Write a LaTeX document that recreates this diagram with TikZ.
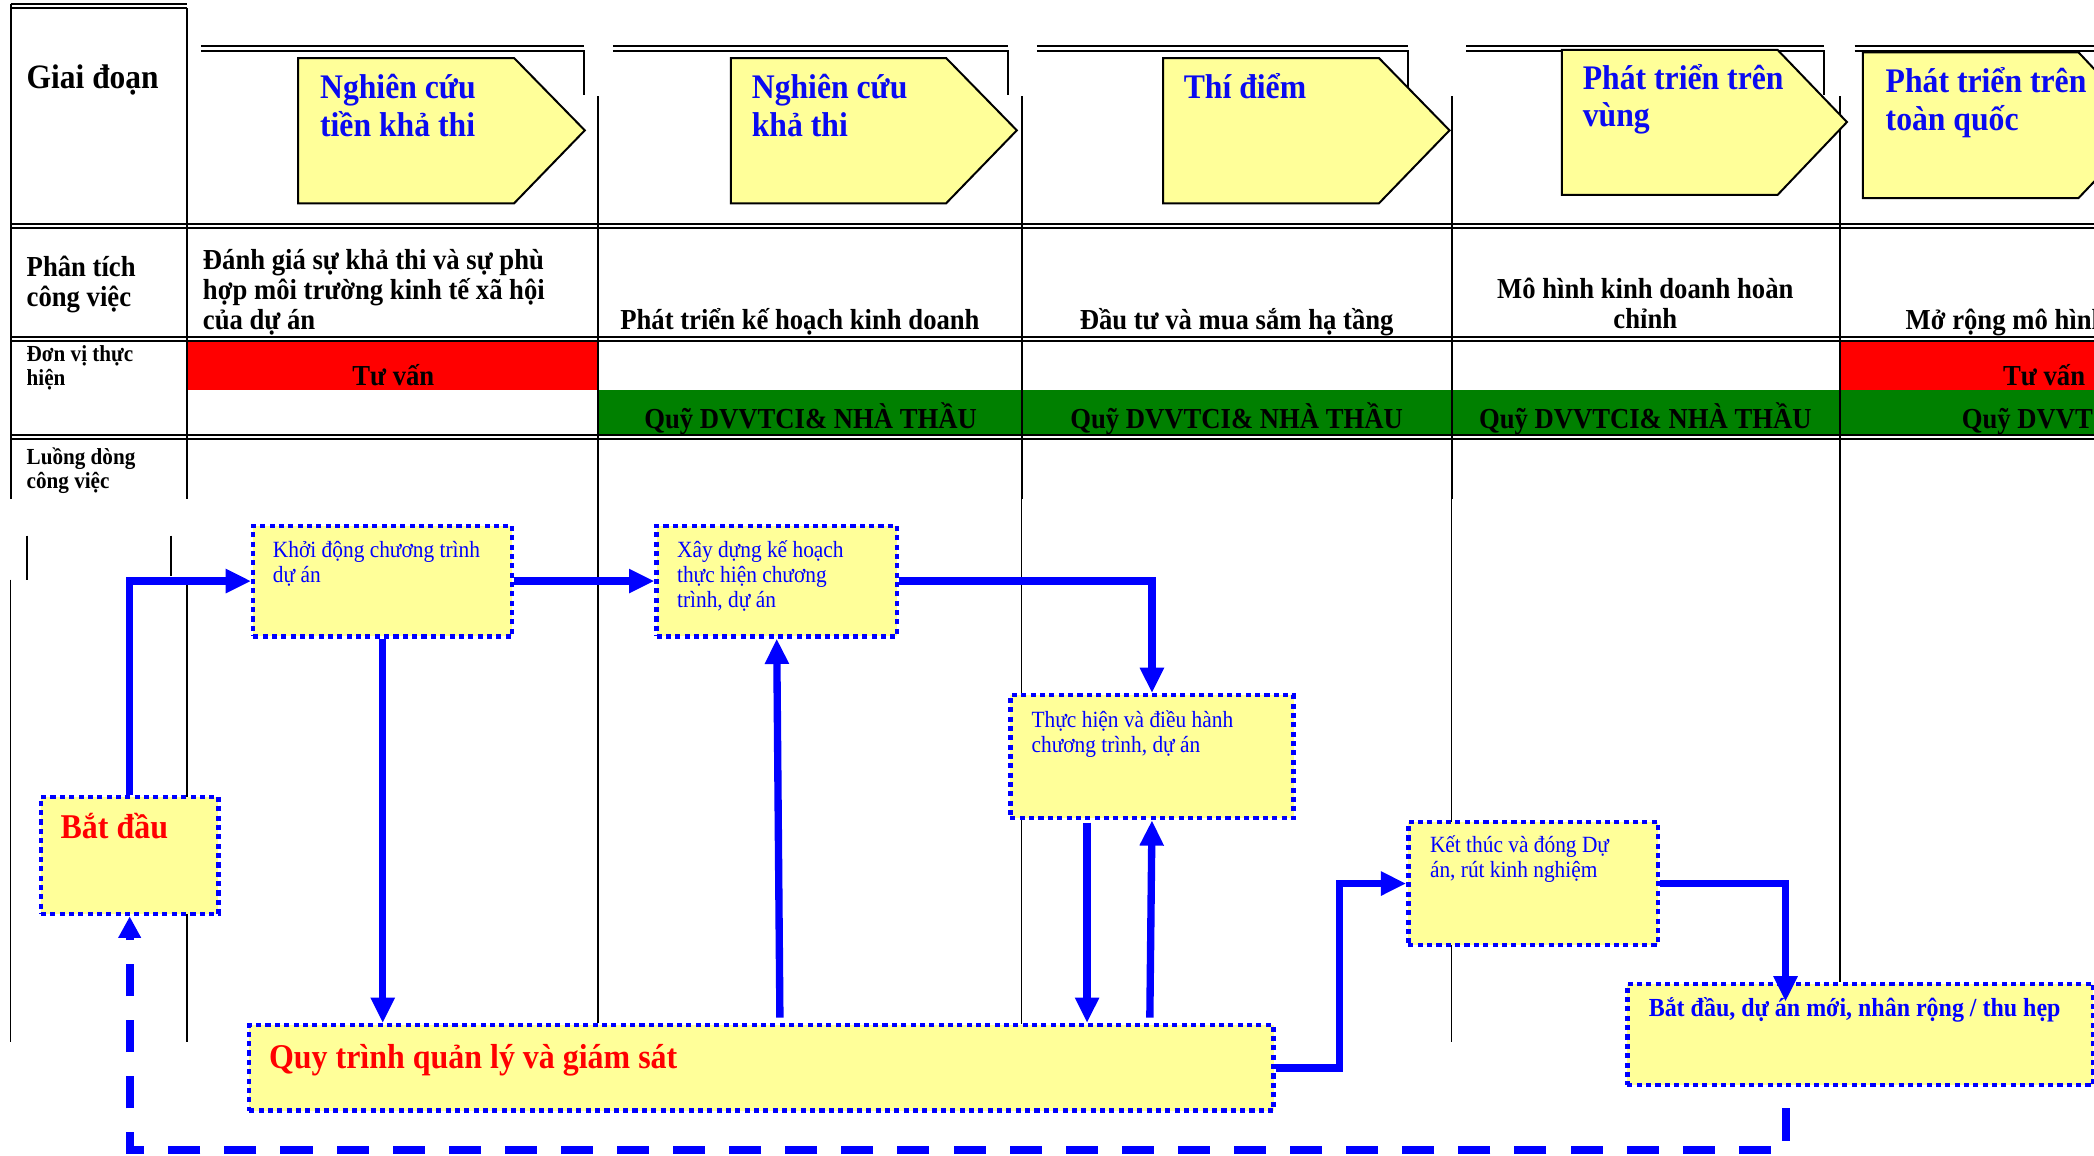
\documentclass[tikz,border=0pt]{standalone}
\usepackage{fontspec}
\setmainfont{Liberation Serif}[FakeStretch=0.92]
\usetikzlibrary{arrows.meta}

\definecolor{phaseyellow}{HTML}{FFFF99}
\definecolor{boxyellow}{HTML}{FFFF99}
\definecolor{flowblue}{HTML}{0000FF}
\definecolor{phaseblue}{HTML}{0A0AF0}
\definecolor{barred}{HTML}{FF0000}
\definecolor{bargreen}{HTML}{008000}
\definecolor{startred}{HTML}{FF0000}

% stacked lines whose baseline is the baseline of the first line
\newcommand{\leftlines}[1]{\vtop{\lineskiplimit=-\maxdimen\halign{##\hfil\cr#1\crcr}}}
\newcommand{\centerlines}[1]{\vtop{\lineskiplimit=-\maxdimen\halign{\hfil##\hfil\cr#1\crcr}}}

\tikzset{
  gridline/.style={line width=1.5pt, black},
  flowgrid/.style={line width=1.2pt, black},
  phaseshape/.style={fill=phaseyellow, draw=black, line width=1.5pt, line join=miter},
  txt/.style={inner sep=0pt, outer sep=0pt, anchor=base west},
  ctxt/.style={inner sep=0pt, outer sep=0pt, anchor=base},
  headfont/.style={font=\fontsize{25.6}{28}\selectfont\bfseries},
  phasefont/.style={font=\fontsize{25.8}{28}\selectfont\bfseries, text=phaseblue},
  rowfont/.style={font=\fontsize{21.7}{22.5}\selectfont\bfseries},
  smallrow/.style={font=\fontsize{17.2}{18}\selectfont\bfseries},
  flowfont/.style={font=\fontsize{17.4}{18.6}\selectfont, text=flowblue},
  bigred/.style={font=\fontsize{26}{28}\selectfont\bfseries, text=startred},
  newfont/.style={font=\fontsize{19.5}{21}\selectfont\bfseries, text=flowblue},
  flowbox/.style={draw=flowblue, fill=boxyellow, line width=3.2pt,
    dash pattern=on 3.8pt off 3.2pt, inner sep=0pt, anchor=north west},
  flowarrow/.style={draw=flowblue, line width=5.5pt, line join=miter,
    -{Triangle[length=19pt,width=17pt]}},
  returnline/.style={draw=flowblue, line width=6pt, dash pattern=on 24pt off 18pt,
    -{Triangle[length=16pt,width=16pt]}}
}

\begin{document}
\begin{tikzpicture}[x=1pt,y=-1pt]
\useasboundingbox (0,0) rectangle (1568,865);
\clip (0,0) rectangle (1568,865);

% ---------- table rules ----------
% label column
\draw[gridline] (8,3) -- (140,3) (8,6.3) -- (140,6.3);
\draw[gridline] (8,3) -- (8,374);
\draw[gridline] (140,6.3) -- (140,374);
% phase headers: double top rule and short drop at the right
\draw[gridline] (150.4,34.7) -- (437,34.7) (150.4,38) -- (437,38) -- (437,71);
\draw[gridline] (459,34.7) -- (754.5,34.7) (459,38) -- (754.5,38) -- (754.5,71);
\draw[gridline] (776.5,34.7) -- (1054.5,34.7) (776.5,38) -- (1054.5,38) -- (1054.5,71);
\draw[gridline] (1098,34.7) -- (1366,34.7) (1098,38) -- (1366,38) -- (1366,71);
\draw[gridline] (1388.7,34.7) -- (1570,34.7) (1388.7,38) -- (1570,38);

% coloured bars of the executing-unit row
\fill[barred] (140.4,255.6) rectangle (448,292.4);
\fill[barred] (1378,255.6) rectangle (1570,292.4);
\fill[bargreen] (448,292.4) rectangle (1570,325);

% column separators
\draw[gridline] (448,72) -- (448,374);
\draw[gridline] (765,72) -- (765,374);
\draw[gridline] (1087,72) -- (1087,374);
\draw[gridline] (1378,72) -- (1378,374);

% row separators (double rules)
\draw[gridline] (8,167.5) -- (1570,167.5) (8,171) -- (1570,171);
\draw[gridline] (8,252.2) -- (1570,252.2) (8,255.5) -- (1570,255.5);
\draw[gridline] (8,325.5) -- (1570,325.5) (8,329) -- (1570,329);

% ---------- work-flow area rules ----------
\draw[flowgrid] (448,374) -- (448,766);
\draw[flowgrid] (765,374) -- (765,767);
\draw[flowgrid] (1087,374) -- (1087,780);
\draw[flowgrid] (1378,374) -- (1378,735);
\draw[flowgrid] (20,401) -- (20,434);
\draw[flowgrid] (128,401) -- (128,431);
\draw[flowgrid] (8,434) -- (8,780);
\draw[flowgrid] (140,434) -- (140,780);

% ---------- phase arrows ----------
\draw[phaseshape] (223.3,43.5) -- (385,43.5) -- (437.9,97.6) -- (385,152.2) -- (223.3,152.2) -- cycle;
\draw[phaseshape] (547.3,43.5) -- (708.5,43.5) -- (761.4,97.6) -- (708.5,152.2) -- (547.3,152.2) -- cycle;
\draw[phaseshape] (871,43.5) -- (1032.6,43.5) -- (1085.4,97.6) -- (1032.6,152.2) -- (871,152.2) -- cycle;
\draw[phaseshape] (1169.6,37.3) -- (1331,37.3) -- (1383,91.4) -- (1331,146) -- (1169.6,146) -- cycle;
\draw[phaseshape] (1395,39.2) -- (1556.4,39.2) -- (1608,94) -- (1556.4,148.3) -- (1395,148.3) -- cycle;

\node[txt, phasefont] (ph1) at (239.7,74) {\leftlines{Nghiên cứu\cr tiền khả thi}};
\node[txt, phasefont] (ph2) at (563,74) {\leftlines{Nghiên cứu\cr khả thi}};
\node[txt, phasefont] (ph3) at (886.4,74) {Thí điểm};
\node[txt, phasefont] (ph4) at (1185.2,67) {\leftlines{Phát triển trên\cr vùng}};
\node[txt, phasefont] (ph5) at (1412,69.5) {\leftlines{Phát triển trên\cr toàn quốc}};

% ---------- row labels ----------
\node[txt, headfont] (lbl1) at (20,66) {Giai đoạn};
\node[txt, rowfont] (lbl2) at (20,207) {\leftlines{Phân tích\cr công việc}};
\node[txt, smallrow] (lbl3) at (20,270.8) {\leftlines{Đơn vị thực\cr hiện}};
\node[txt, smallrow] (lbl4) at (20,347.6) {\leftlines{Luồng dòng\cr công việc}};

% ---------- work analysis ----------
\node[txt, rowfont] (wa1) at (152,201.8) {\leftlines{Đánh giá sự khả thi và sự phù\cr hợp môi trường kinh tế xã hội\cr của dự án}};
\node[ctxt, rowfont] (wa2) at (599,246.8) {Phát triển kế hoạch kinh doanh};
\node[ctxt, rowfont] (wa3) at (926,246.8) {Đầu tư và mua sắm hạ tầng};
\node[ctxt, rowfont] (wa4) at (1232,223.3) {\centerlines{Mô hình kinh doanh hoàn\cr chỉnh}};
\node[txt, rowfont] (wa5) at (1427,246.8) {Mở rộng mô hình};

% ---------- executing units ----------
\node[ctxt, rowfont] (eu1) at (294.5,288.3) {Tư vấn};
\node[txt, rowfont] (eu5) at (1500,288.3) {Tư vấn};
\node[ctxt, rowfont] (fd2) at (607,320.5) {Quỹ DVVTCI\& NHÀ THẦU};
\node[ctxt, rowfont] (fd3) at (926,320.5) {Quỹ DVVTCI\& NHÀ THẦU};
\node[ctxt, rowfont] (fd4) at (1232,320.5) {Quỹ DVVTCI\& NHÀ THẦU};
\node[txt, rowfont] (fd5) at (1469,320.5) {Quỹ DVVTCI\& NHÀ THẦU};

% ---------- work-flow boxes ----------
\node[flowbox, minimum width=133pt, minimum height=88pt] (bd) at (29,595) {};
\node[flowbox, minimum width=194pt, minimum height=83pt] (kd) at (188,392) {};
\node[flowbox, minimum width=180pt, minimum height=83pt] (xd) at (490,392) {};
\node[flowbox, minimum width=212pt, minimum height=92pt] (th) at (755,519) {};
\node[flowbox, minimum width=187pt, minimum height=92pt] (kt) at (1053,614) {};
\node[flowbox, minimum width=767pt, minimum height=64pt] (qt) at (185,766) {};
\node[flowbox, minimum width=349pt, minimum height=76pt] (nb) at (1217,735) {};

\node[txt, bigred] (bdt) at (45.4,627.5) {Bắt đầu};
\node[txt, flowfont] (kdt) at (204.4,417.6) {\leftlines{Khởi động chương trình\cr dự án}};
\node[txt, flowfont] (xdt) at (507,417.6) {\leftlines{Xây dựng kế hoạch\cr thực hiện chương\cr trình, dự án}};
\node[txt, flowfont] (tht) at (772.5,545) {\leftlines{Thực hiện và điều hành\cr chương trình, dự án}};
\node[txt, flowfont] (ktt) at (1070.8,638.6) {\leftlines{Kết thúc và đóng Dự\cr án, rút kinh nghiệm}};
\node[txt, bigred] (qtt) at (201.5,800) {Quy trình quản lý và giám sát};
\node[txt, newfont] (nbt) at (1234.6,761.2) {Bắt đầu, dự án mới, nhân rộng / thu hẹp};

% ---------- connectors ----------
\coordinate (upfoot) at (584,762);
\coordinate (thdown) at (814,616);
\coordinate (thup) at (861,762);
\coordinate (nbin) at (1337,750);
\coordinate (retstart) at (1337,830);
\coordinate (retcorner) at (1337,861);

\draw[flowarrow] (bd.north) |- (kd.west);
\draw[flowarrow] (kd.east) -- (xd.west);
\draw[flowarrow] (xd.east) -| (th.north);
\draw[flowarrow] (kd.south) -- (kd.south |- qt.north);
\draw[flowarrow] (upfoot) -- (xd.south);
\draw[flowarrow] (thdown) -- (thdown |- qt.north);
\draw[flowarrow] (thup) -- (th.south);
\draw[flowarrow] (qt.east) -- ++(48,0) |- (kt.west);
\draw[flowarrow] (kt.east) -| (nbin);
\draw[returnline] (retstart) -- (retcorner) -| (bd.south);
\end{tikzpicture}
\end{document}
